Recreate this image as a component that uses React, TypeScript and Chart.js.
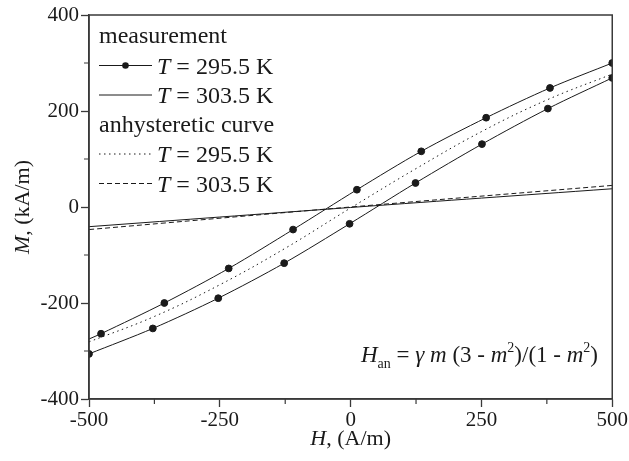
import React, { useEffect, useRef } from "react";
import { Chart, registerables } from "chart.js";
Chart.register(...registerables);

// 295.5 K measured loop (upper = descending branch, lower = ascending branch)
const hUp = [500, 381, 259, 135, 12, -110, -233, -356, -477, -500];
const mUp = [300, 248, 186, 116, 36, -47, -128, -200, -264, -275];
const upMarkers = [1, 1, 1, 1, 1, 1, 1, 1, 1, 0];
const hDown = [-500, -378, -253, -127, -2, 124, 251, 377, 500];
const mDown = [-306, -253, -190, -117, -35, 50, 131, 205, 269];
// 303.5 K measured
const hMeas303 = [-500, 0, 500];
const mMeas303 = [-41, -1, 38];
// anhysteretic curves
const hAn295 = [-500, -375, -250, -125, 0, 125, 250, 375, 500];
const mAn295 = [-281, -228, -162, -86, -2, 80, 157, 223, 277];
const hAn303 = [-500, 0, 500];
const mAn303 = [-47, 0, 45];

const xMajorTicks = [-500, -250, 0, 250, 500];
const xMinorTicks = [-375, -125, 125, 375];
const yMajorTicks = [-400, -200, 0, 200, 400];
const yMinorTicks = [-300, -100, 100, 300];

const legendGroups = ["measurement", "anhysteretic curve"];
const legendTemps = ["295.5 K", "303.5 K"];

const SERIF = "'Liberation Serif', 'Times New Roman', serif";
const INK = "#1a1a1a";
const AXIS = "#3a3a3a";

const pts = (h: number[], m: number[]) => h.map((x, i) => ({ x, y: m[i] }));

type Seg = { t: string; font: string; dy?: number };

function drawRich(ctx: CanvasRenderingContext2D, x: number, y: number, segs: Seg[], align: "left" | "right" | "center") {
  let total = 0;
  const widths = segs.map((s) => {
    ctx.font = s.font;
    const w = ctx.measureText(s.t).width;
    total += w;
    return w;
  });
  let cx = align === "left" ? x : align === "right" ? x - total : x - total / 2;
  segs.forEach((s, i) => {
    ctx.font = s.font;
    ctx.textAlign = "left";
    ctx.fillText(s.t, cx, y + (s.dy || 0));
    cx += widths[i];
  });
}

const decor = {
  id: "decor",
  afterDraw(chart: any) {
    const ctx: CanvasRenderingContext2D = chart.ctx;
    const { left, right, top, bottom } = chart.chartArea;
    const xs = chart.scales.x;
    const ys = chart.scales.y;
    ctx.save();
    // frame
    ctx.strokeStyle = AXIS;
    ctx.lineWidth = 1.5;
    ctx.strokeRect(left, top, right - left, bottom - top);
    // minor ticks
    ctx.lineWidth = 1.2;
    ctx.beginPath();
    xMinorTicks.forEach((v) => {
      const px = xs.getPixelForValue(v);
      ctx.moveTo(px, bottom);
      ctx.lineTo(px, bottom + 5);
    });
    yMinorTicks.forEach((v) => {
      const py = ys.getPixelForValue(v);
      ctx.moveTo(left, py);
      ctx.lineTo(left - 5, py);
    });
    ctx.stroke();

    ctx.fillStyle = INK;
    ctx.textBaseline = "alphabetic";
    const f24 = `24px ${SERIF}`;
    const i24 = `italic 24px ${SERIF}`;
    // legend
    const rowY = [36, 65.5, 95, 124.5, 154, 183.5];
    const lx0 = 99, lx1 = 152, tx = 157;
    const base = (cy: number) => cy + 8;
    drawRich(ctx, lx0, base(rowY[0]) - 1, [{ t: legendGroups[0], font: f24 }], "left");
    drawRich(ctx, lx0, base(rowY[3]) - 1, [{ t: legendGroups[1], font: f24 }], "left");
    const rowsT = [1, 2, 4, 5];
    rowsT.forEach((r, k) => {
      const cy = rowY[r];
      ctx.strokeStyle = INK;
      ctx.lineWidth = 1;
      if (k === 2) ctx.setLineDash([1.5, 3.5]);
      else if (k === 3) ctx.setLineDash([5, 3]);
      else ctx.setLineDash([]);
      ctx.beginPath();
      ctx.moveTo(lx0, cy);
      ctx.lineTo(lx1, cy);
      ctx.stroke();
      ctx.setLineDash([]);
      if (k === 0) {
        ctx.beginPath();
        ctx.arc((lx0 + lx1) / 2, cy, 3.3, 0, Math.PI * 2);
        ctx.fill();
      }
      drawRich(ctx, tx, base(cy), [
        { t: "T", font: i24 },
        { t: " = " + legendTemps[k % 2], font: f24 },
      ], "left");
    });

    // formula
    const f20 = `23px ${SERIF}`;
    const i20 = `italic 23px ${SERIF}`;
    const s13 = `14px ${SERIF}`;
    drawRich(ctx, 598, 362, [
      { t: "H", font: i20 },
      { t: "an", font: s13, dy: 6 },
      { t: " = ", font: f20 },
      { t: "γ", font: i20 },
      { t: " ", font: f20 },
      { t: "m", font: i20 },
      { t: " (3 - ", font: f20 },
      { t: "m", font: i20 },
      { t: "2", font: s13, dy: -10 },
      { t: ")/(1 - ", font: f20 },
      { t: "m", font: i20 },
      { t: "2", font: s13, dy: -10 },
      { t: ")", font: f20 },
    ], "right");

    // axis titles
    const f22 = `22px ${SERIF}`;
    const i22 = `italic 22px ${SERIF}`;
    drawRich(ctx, (left + right) / 2, 445, [
      { t: "H", font: i22 },
      { t: ", (A/m)", font: f22 },
    ], "center");
    ctx.save();
    ctx.translate(29, (top + bottom) / 2);
    ctx.rotate(-Math.PI / 2);
    drawRich(ctx, 0, 0, [
      { t: "M", font: i22 },
      { t: ", (kA/m)", font: f22 },
    ], "center");
    ctx.restore();
    ctx.restore();
  },
};

export default function App() {
  const ref = useRef<HTMLCanvasElement | null>(null);
  useEffect(() => {
    if (!ref.current) return;
    const lineBase = {
      showLine: true,
      borderColor: INK,
      backgroundColor: INK,
      borderWidth: 1,
      fill: false,
      pointHoverRadius: 0,
    };
    const chart = new Chart(ref.current, {
      type: "scatter",
      data: {
        datasets: [
          {
            ...lineBase,
            data: pts(hAn295, mAn295),
            borderDash: [1.5, 3.5],
            pointRadius: 0,
            tension: 0.4,
          },
          {
            ...lineBase,
            data: pts(hAn303, mAn303),
            borderDash: [5, 3],
            pointRadius: 0,
            tension: 0.4,
          },
          {
            ...lineBase,
            data: pts(hMeas303, mMeas303),
            pointRadius: 0,
            tension: 0.4,
          },
          {
            ...lineBase,
            data: pts(hUp, mUp),
            pointRadius: upMarkers.map((v) => (v ? 3.4 : 0)),
            tension: 0.3,
          },
          {
            ...lineBase,
            data: pts(hDown, mDown),
            pointRadius: 3.4,
            tension: 0.3,
          },
        ],
      } as any,
      options: {
        animation: false,
        responsive: false,
        maintainAspectRatio: false,
        events: [],
        layout: { padding: { top: 15, right: 16, left: 0, bottom: 0 } },
        plugins: { legend: { display: false }, tooltip: { enabled: false }, title: { display: false } },
        scales: {
          x: {
            type: "linear",
            min: -500,
            max: 500,
            afterBuildTicks: (s: any) => {
              s.ticks = xMajorTicks.map((v) => ({ value: v }));
            },
            afterFit: (s: any) => {
              s.height = 62;
            },
            border: { display: true, color: AXIS, width: 1.5 },
            grid: { display: true, drawOnChartArea: false, drawTicks: true, tickLength: 8, color: AXIS, tickWidth: 1.3 } as any,
            ticks: {
              autoSkip: false,
              maxRotation: 0,
              padding: 1,
              color: INK,
              font: { family: SERIF, size: 21 },
            },
          },
          y: {
            type: "linear",
            min: -400,
            max: 400,
            afterBuildTicks: (s: any) => {
              s.ticks = yMajorTicks.map((v) => ({ value: v }));
            },
            afterFit: (s: any) => {
              s.width = 89;
            },
            border: { display: true, color: AXIS, width: 1.5 },
            grid: { display: true, drawOnChartArea: false, drawTicks: true, tickLength: 8, color: AXIS, tickWidth: 1.3 } as any,
            ticks: {
              autoSkip: false,
              padding: 2,
              color: INK,
              font: { family: SERIF, size: 21 },
            },
          },
        },
      } as any,
      plugins: [decor],
    });
    return () => chart.destroy();
  }, []);
  return (
    <div style={{ position: "absolute", left: 0, top: 0, width: 629, height: 461, background: "#fff" }}>
      <canvas ref={ref} width={629} height={461} style={{ display: "block", width: 629, height: 461 }} />
    </div>
  );
}
